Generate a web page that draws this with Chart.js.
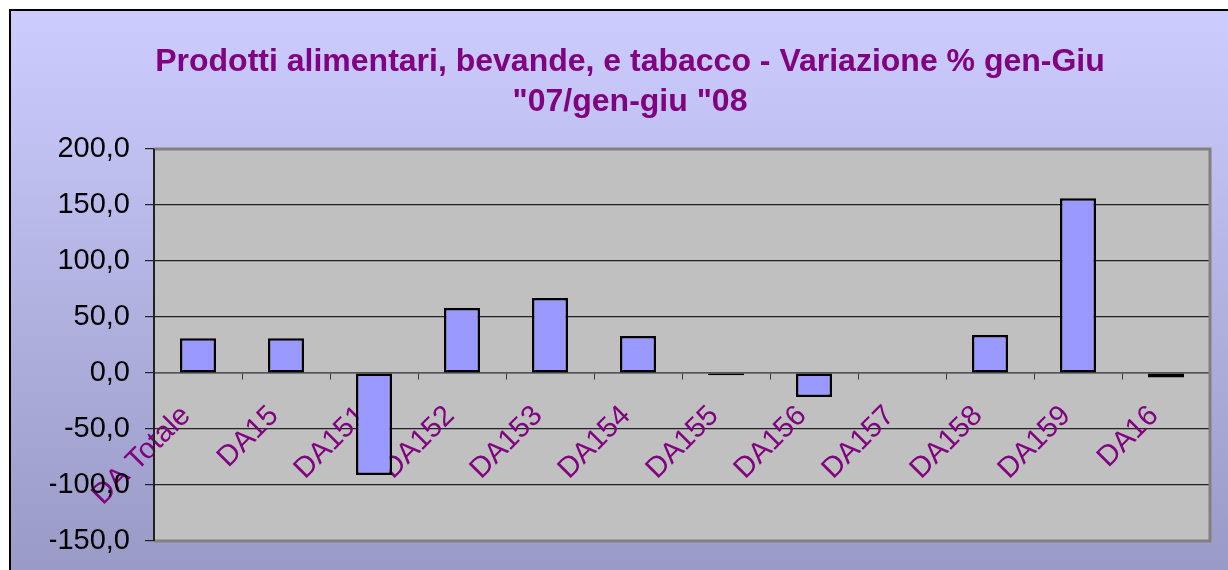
<!DOCTYPE html>
<html>
<head>
<meta charset="utf-8">
<script src="https://cdn.jsdelivr.net/npm/chart.js@4/dist/chart.umd.min.js"></script>
<style>
  html, body { margin: 0; padding: 0; background: #fff; }
  #wrap { width: 1228px; height: 570px; }
</style>
</head>
<body>
<div id="wrap"><canvas id="varChart" width="1228" height="570"></canvas></div>
<script>
// categorie e valori (variazione %)
var categories = ['DA Totale', 'DA15', 'DA151', 'DA152', 'DA153', 'DA154', 'DA155', 'DA156', 'DA157', 'DA158', 'DA159', 'DA16'];
var variazione = [31, 31, -91, 58, 67, 33, -2, -21.5, null, 34, 156, -4];
var yTicks = [-150, -100, -50, 0, 50, 100, 150, 200];

//- SFONDO + CORNICE -
var sfondo = {
  id: 'sfondo',
  beforeDraw: function (chart) {
    var ctx = chart.ctx
    var a = chart.chartArea
    ctx.save()
    ctx.fillStyle = '#ffffff'
    ctx.fillRect(0, 0, chart.width, chart.height)
    var g = ctx.createLinearGradient(0, 10, 0, chart.height)
    g.addColorStop(0, '#ccccff')
    g.addColorStop(1, '#9a9ac6')
    ctx.fillStyle = g
    ctx.fillRect(10, 10, chart.width, chart.height)
    ctx.strokeStyle = '#000000'
    ctx.lineWidth = 2
    ctx.beginPath()
    ctx.moveTo(10, chart.height + 5)
    ctx.lineTo(10, 10)
    ctx.lineTo(chart.width + 5, 10)
    ctx.stroke()
    ctx.fillStyle = '#c0c0c0'
    ctx.fillRect(a.left, a.top, a.right - a.left, a.bottom - a.top)
    ctx.restore()
  },
  afterDraw: function (chart) {
    var ctx = chart.ctx
    var a = chart.chartArea
    ctx.save()
    ctx.strokeStyle = '#808080'
    ctx.lineWidth = 3
    ctx.beginPath()
    ctx.moveTo(a.left, a.top)
    ctx.lineTo(a.right, a.top)
    ctx.lineTo(a.right, a.bottom)
    ctx.lineTo(a.left, a.bottom)
    ctx.stroke()
    ctx.strokeStyle = '#222222'
    ctx.lineWidth = 2
    ctx.beginPath()
    ctx.moveTo(a.left, a.top)
    ctx.lineTo(a.left, a.bottom)
    ctx.stroke()
    ctx.restore()
  }
}

var ctx = document.getElementById('varChart').getContext('2d')
new Chart(ctx, {
  type: 'bar',
  data: {
    labels: categories,
    datasets: [{
      label: 'Variazione %',
      data: variazione,
      backgroundColor: '#9999ff',
      borderColor: '#000000',
      borderWidth: 2.5,
      borderSkipped: false,
      categoryPercentage: 1,
      barPercentage: 0.41
    }]
  },
  plugins: [sfondo],
  options: {
    responsive: false,
    animation: false,
    layout: { padding: { left: 50, right: 18, bottom: 29, top: 0 } },
    plugins: {
      legend: { display: false },
      tooltip: { enabled: false },
      title: {
        display: true,
        text: ['Prodotti alimentari, bevande, e tabacco - Variazione % gen-Giu', '"07/gen-giu "08'],
        color: '#800080',
        font: { family: 'Liberation Sans', size: 32, weight: 'bold', lineHeight: 1.25 },
        padding: { top: 42, bottom: 27 }
      }
    },
    scales: {
      x: {
        position: { y: 0 },
        offset: true,
        grid: { display: true, drawOnChartArea: false, drawTicks: true, tickLength: 6, color: '#333333', offset: true },
        border: { display: true, color: '#555555', width: 1.5 },
        ticks: {
          color: '#800080',
          font: { family: 'Liberation Sans', size: 29 },
          minRotation: 45,
          maxRotation: 45,
          autoSkip: false,
          labelOffset: -12,
          padding: 20
        },
        afterFit: function (scale) {
          scale.height = 0
          scale.paddingLeft = 0
          scale.paddingRight = 0
          scale.paddingTop = 0
          scale.paddingBottom = 0
        }
      },
      y: {
        min: -150,
        max: 200,
        afterBuildTicks: function (scale) {
          scale.ticks = yTicks.map(function (v) { return { value: v } })
        },
        grid: { color: '#222222', lineWidth: 1.2, tickLength: 9 },
        border: { display: true, color: '#222222', width: 2 },
        ticks: {
          color: '#000000',
          font: { family: 'Liberation Sans', size: 29 },
          padding: 15,
          callback: function (v) { return v.toFixed(1).replace('.', ',') }
        },
        afterFit: function (scale) {
          scale.width = 104
          scale.paddingTop = 0
          scale.paddingBottom = 0
        }
      }
    }
  }
})
</script>
</body>
</html>
